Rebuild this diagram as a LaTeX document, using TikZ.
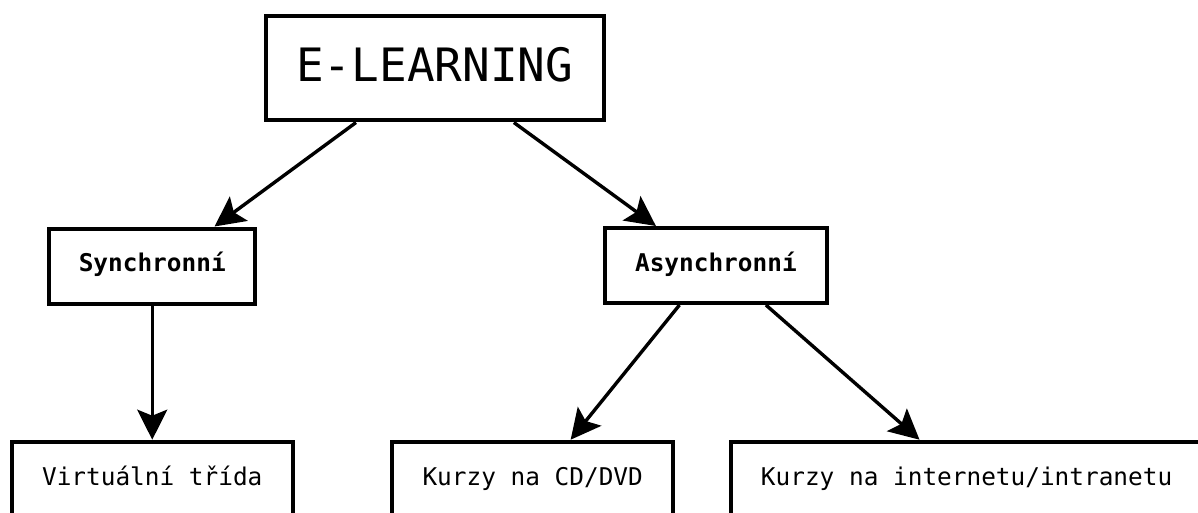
\documentclass[tikz,border=0pt]{standalone}
\usepackage{fontspec}
\newfontfamily\monofnt{DejaVu Sans Mono}
\usetikzlibrary{arrows.meta,calc}
\tikzset{
  boxbase/.style={draw=black, line width=4pt, rectangle, inner xsep=0pt, font=\monofnt\fontsize{24.4}{28}\selectfont},
  bigbox/.style={boxbase, font=\monofnt\fontsize{46}{52}\selectfont, minimum width=338.5pt, minimum height=104.5pt, text height=33.5pt, text depth=6.5pt},
  midbox/.style={boxbase, font=\monofnt\bfseries\fontsize{24.4}{28}\selectfont, minimum height=75pt, text height=17.8pt, text depth=6pt},
  lowbox/.style={boxbase, anchor=north, inner ysep=26.4pt, text height=17.8pt, text depth=120pt},
  arr/.style={line width=3.4pt, -{Stealth[length=30pt, width=30pt, inset=6pt]}}
}
\begin{document}
\begin{tikzpicture}[x=1pt, y=-1pt]
\useasboundingbox (0,0) rectangle (1198,513);
\fill[white] (0,0) rectangle (1198,513);
\clip (0,0) rectangle (1198,513);
\node[bigbox] (e) at (434.75,68.25) {E-LEARNING};
\node[midbox, minimum width=205.7pt] (s) at (152.25,266) {Synchronní};
\node[midbox, minimum width=222.3pt] (a) at (715.9,265.5) {Asynchronní};
\node[lowbox, minimum width=280.5pt] (v) at (152.25,439.7) {Virtuální třída};
\node[lowbox, minimum width=281.3pt] (c) at (532.7,439.7) {Kurzy na CD/DVD};
\node[lowbox, minimum width=471.6pt] (i) at (966.6,439.7) {Kurzy na internetu/intranetu};
\draw[arr] ($(e.south west)!0.27!(e.south east)$) -- ($(s.north west)!0.797!(s.north east)$);
\draw[arr] ($(e.south west)!0.731!(e.south east)$) -- ($(a.north west)!0.235!(a.north east)$);
\draw[arr] (s.south) -- (v.north);
\draw[arr] ($(a.south west)!0.339!(a.south east)$) -- ($(c.north west)!0.633!(c.north east)$);
\draw[arr] ($(a.south west)!0.721!(a.south east)$) -- ($(i.north west)!0.401!(i.north east)$);
\end{tikzpicture}
\end{document}
